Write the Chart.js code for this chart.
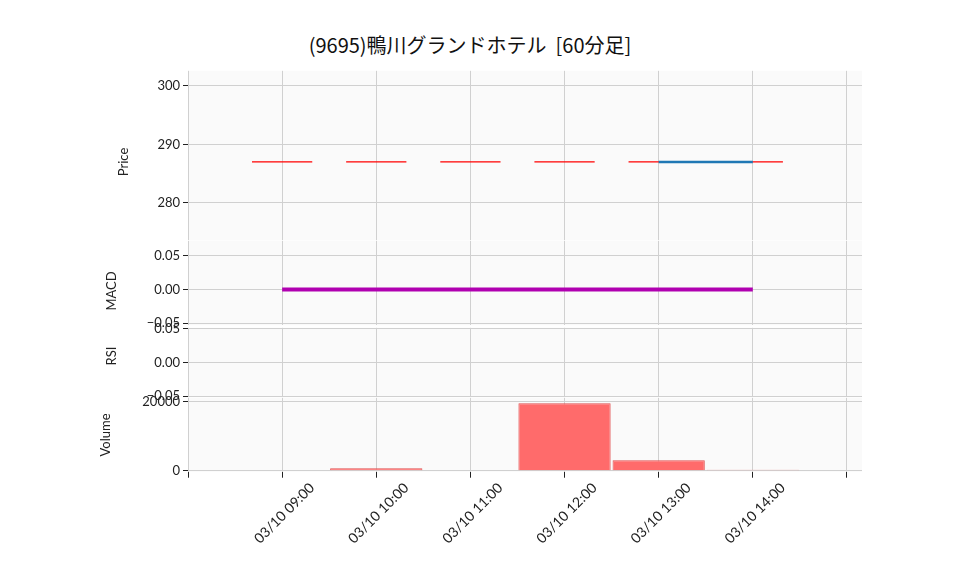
<!DOCTYPE html><html><head><meta charset="utf-8">
<script src="https://cdn.jsdelivr.net/npm/chart.js@4"></script>
<style>body{margin:0;background:#fff;width:958px;height:575px;position:relative;overflow:hidden;font-family:Lato,sans-serif}
.p{position:absolute;left:0;width:958px}
.yt{position:absolute;font-size:13px;color:#222;transform:translate(-50%,-50%) rotate(-90deg);white-space:nowrap}
#t{position:absolute;top:30px;left:0;width:940px;text-align:center;font-size:20px;color:#111;font-family:"Noto Sans CJK JP",Lato}</style></head><body>
<div id="t">(9695)鴨川グランドホテル&nbsp;&nbsp;[60分足]</div>
<div class="p" style="top:60px;height:191px"><canvas id="c1"></canvas></div>
<div class="p" style="top:230px;height:106px"><canvas id="c2"></canvas></div>
<div class="p" style="top:317px;height:91px"><canvas id="c3"></canvas></div>
<div class="p" style="top:387px;height:188px"><canvas id="c4"></canvas></div>
<div class="yt" style="left:123px;top:162px">Price</div>
<div class="yt" style="left:111px;top:291px">MACD</div>
<div class="yt" style="left:111px;top:356px">RSI</div>
<div class="yt" style="left:105px;top:435px">Volume</div>
<script>
const labels=["03/10 09:00","03/10 10:00","03/10 11:00","03/10 12:00","03/10 13:00","03/10 14:00"];
const closes=[287,287,287,287,287,287];
const maLine=[null,null,null,null,287,287];
const macd=[0,0,0,0,0,0];
const volume=[0,700,0,19600,3000,300];
const priceTicks=[280,290,300];
const macdTicks=[-0.05,0,0.05];
const volTicks=[0,20000];

const bg={id:'bg',beforeDraw(c){const a=c.chartArea,x=c.ctx;x.save();x.fillStyle='#fafafa';x.fillRect(a.left,a.top,a.right-a.left,a.bottom-a.top);x.restore();}};
const font={family:'Lato',size:13};
function xScale(show){return {type:'linear',min:-1,max:6.16,offset:false,
 afterBuildTicks(s){s.ticks=[-1,0,1,2,3,4,5,6].map(v=>({value:v}));},
 grid:{color:'#d0d0d0',offset:false,drawTicks:show,tickLength:6,tickColor:'#222'},border:{display:false},
 ticks:{display:show,color:'#222',font:{family:'Lato',size:14},maxRotation:45,minRotation:45,autoSkip:false,labelOffset:30,padding:2,callback:v=>labels[v]||''}};}
function yScale(min,max,ticks,fmt){return {min,max,afterBuildTicks(s){s.ticks=ticks.map(v=>({value:v}));},
 afterFit(s){s.width=188;},grid:{color:'#d0d0d0',tickLength:5,tickColor:'#222'},border:{display:false},
 ticks:{color:'#222',font,callback:fmt,padding:3}};}
function mk(id,datasets,ys,showX,type,pb){return new Chart(document.getElementById(id),{type:type||'line',data:{datasets},
 options:{responsive:true,maintainAspectRatio:false,animation:false,layout:{padding:{right:96,top:0,bottom:pb||0,left:0}},
 plugins:{legend:{display:false},tooltip:{enabled:false}},scales:{x:xScale(showX),y:ys}},plugins:[bg]});}
const candle=[];closes.forEach((c,i)=>{candle.push({x:i-0.32,y:c},{x:i+0.32,y:c},{x:i,y:null});});
mk('c1',[{data:maLine.map((v,i)=>({x:i,y:v})),borderColor:'#1f77b4',borderWidth:2.5,pointRadius:0},
 {data:candle,borderColor:'#ff0000',borderWidth:1.2,pointRadius:0,spanGaps:false}],
 yScale(273.6,302.6,priceTicks,v=>v),false);
mk('c2',[{data:macd.map((v,i)=>({x:i,y:v})),borderColor:'#b000b0',borderWidth:4,pointRadius:0}],
 yScale(-0.053,0.072,macdTicks,v=>v.toFixed(2).replace('-','−')),false);
mk('c3',[{data:[]}],yScale(-0.0515,0.0515,macdTicks,v=>v.toFixed(2).replace('-','−')),false);
mk('c4',[{type:'bar',data:volume.map((v,i)=>({x:i,y:v})),backgroundColor:'#ff6b6b',borderColor:'#e05050',borderWidth:1,barPercentage:0.98,categoryPercentage:1}],
 yScale(-300,21194,volTicks,v=>v),true,'bar',26);
</script></body></html>
